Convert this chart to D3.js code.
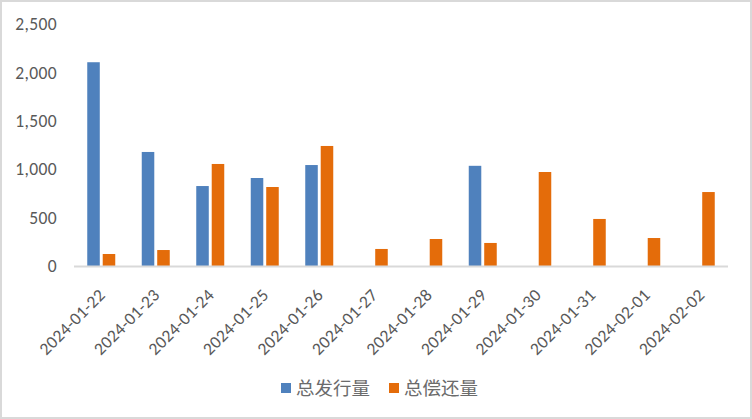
<!DOCTYPE html>
<html lang="zh">
<head>
    <meta charset="UTF-8">
    <title>总发行量与总偿还量</title>
    <script src="https://d3js.org/d3.v7.min.js"></script>
    <style>
        html, body { margin: 0; padding: 0; background: #fff; }
        svg { display: block; }
        text { font-family: Calibri, "Liberation Sans", "Noto Sans CJK SC", sans-serif; fill: #595959; }
    </style>
</head>
<body>
    <svg id="chart" width="752" height="419"></svg>
    <script>
        // data
        var dates = ["2024-01-22", "2024-01-23", "2024-01-24", "2024-01-25", "2024-01-26", "2024-01-27",
                     "2024-01-28", "2024-01-29", "2024-01-30", "2024-01-31", "2024-02-01", "2024-02-02"];
        var seriesNames = ["总发行量", "总偿还量"];
        var issued = [2105, 1178, 826, 909, 1043, 0, 0, 1035, 0, 0, 0, 0];
        var repaid = [124, 165, 1054, 816, 1240, 176, 279, 238, 971, 486, 289, 764];
        var yTicks = [0, 500, 1000, 1500, 2000, 2500];
        var colors = ["#4F81BD", "#E46C0A"];

        var svg = d3.select("#chart");
        var width = +svg.attr("width");
        var height = +svg.attr("height");

        // outer border
        svg.append("rect")
            .attr("x", 1).attr("y", 1)
            .attr("width", width - 2).attr("height", height - 2)
            .attr("fill", "#fff")
            .attr("stroke", "#d9d9d9")
            .attr("stroke-width", 2);

        var plot = { left: 74, right: 728, top: 24, bottom: 266 };

        var x0 = d3.scaleBand()
            .domain(dates)
            .range([plot.left, plot.right]);

        var groupW = 28;
        var x1 = d3.scaleBand()
            .domain(seriesNames)
            .range([0, groupW])
            .paddingInner(0.19);

        var y = d3.scaleLinear()
            .domain([0, 2500])
            .range([plot.bottom, plot.top]);

        // y axis labels (no line, no ticks)
        var yAxis = svg.append("g")
            .attr("transform", "translate(" + (plot.left - 17) + ",0)")
            .call(d3.axisLeft(y).tickValues(yTicks).tickFormat(d3.format(",")).tickSize(0).tickPadding(0));
        yAxis.select(".domain").remove();
        yAxis.selectAll("text")
            .style("font-size", "17.5px")
            .style("letter-spacing", "0.4px")
            .style("fill", "#595959")
            .style("font-family", "Calibri, 'Liberation Sans', sans-serif");

        var rows = dates.map(function(d, i) {
            return { date: d, values: [issued[i], repaid[i]] };
        });

        var groups = svg.append("g").selectAll("g")
            .data(rows)
            .join("g")
            .attr("transform", function(d) {
                return "translate(" + (x0(d.date) + (x0.bandwidth() - groupW) / 2) + ",0)";
            });

        groups.selectAll("rect")
            .data(function(d) {
                return d.values.map(function(v, k) { return { name: seriesNames[k], value: v, k: k }; });
            })
            .join("rect")
            .filter(function(d) { return d.value > 0; })
            .attr("x", function(d) { return x1(d.name); })
            .attr("width", x1.bandwidth())
            .attr("y", function(d) { return y(d.value); })
            .attr("height", function(d) { return y(0) - y(d.value); })
            .attr("fill", function(d) { return colors[d.k]; });

        // category axis line
        svg.append("line")
            .attr("x1", plot.left).attr("x2", plot.right)
            .attr("y1", y(0) + 0.5).attr("y2", y(0) + 0.5)
            .attr("stroke", "#d9d9d9")
            .attr("stroke-width", 2);

        // rotated date labels
        var xAxis = svg.append("g")
            .attr("transform", "translate(0," + plot.bottom + ")")
            .call(d3.axisBottom(x0).tickSize(0).tickPadding(0));
        xAxis.select(".domain").remove();
        xAxis.selectAll("text")
            .attr("text-anchor", "end")
            .attr("dy", null)
            .attr("y", null)
            .attr("transform", "translate(5,30) rotate(-45)")
            .style("font-size", "17.5px")
            .style("letter-spacing", "0.3px")
            .style("fill", "#595959")
            .style("font-family", "Calibri, 'Liberation Sans', sans-serif");

        // legend
        var legend = svg.append("g").attr("transform", "translate(281,383)");
        var items = legend.selectAll("g")
            .data(seriesNames)
            .join("g")
            .attr("transform", function(d, i) { return "translate(" + (i * 108) + ",0)"; });
        items.append("rect")
            .attr("width", 10).attr("height", 10)
            .attr("fill", function(d, i) { return colors[i]; });
        items.append("text")
            .attr("x", 15).attr("y", 5)
            .attr("dy", "0.36em")
            .style("font-size", "18.5px")
            .style("fill", "#6b6b6b")
            .style("font-family", "'Noto Sans CJK SC', sans-serif")
            .text(function(d) { return d; });
    </script>
</body>
</html>
